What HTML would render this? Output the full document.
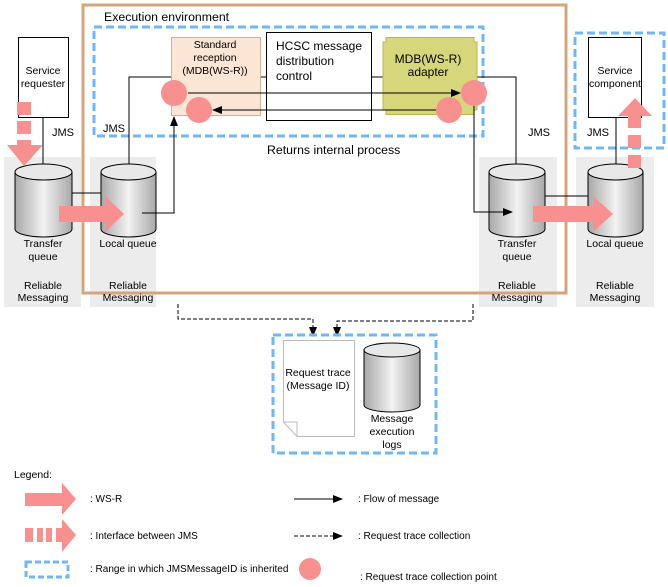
<!DOCTYPE html>
<html><head><meta charset="utf-8"><style>
html,body{margin:0;padding:0;background:#fff;}
svg{display:block;font-family:"Liberation Sans",Arial,sans-serif;font-size:11px;}
</style></head><body>
<svg width="668" height="587" viewBox="0 0 668 587" xmlns="http://www.w3.org/2000/svg">
<defs>
<linearGradient id="cg" x1="0" x2="1" y1="0" y2="0">
<stop offset="0" stop-color="#a8a8a8"/><stop offset="0.5" stop-color="#f2f2f2"/><stop offset="1" stop-color="#a8a8a8"/>
</linearGradient>
<marker id="ah" markerWidth="10" markerHeight="8" refX="9" refY="4" orient="auto" markerUnits="userSpaceOnUse">
<path d="M0,0 L10,4 L0,8 Z" fill="#000"/></marker>
</defs>

<rect x="4" y="157" width="77" height="150" fill="#ececec"/>
<rect x="90" y="157" width="66" height="150" fill="#ececec"/>
<rect x="479" y="157" width="78" height="150" fill="#ececec"/>
<rect x="576" y="157" width="78" height="150" fill="#ececec"/>

<rect x="83" y="5" width="483" height="288" fill="none" stroke="#d4a57a" stroke-width="3"/>
<text x="104" y="21" font-size="12.3">Execution environment</text>

<rect x="94" y="27" width="389" height="109" fill="none" stroke="#6fb7f7" stroke-width="3" stroke-dasharray="8,4"/>
<rect x="575" y="33" width="89" height="115" fill="none" stroke="#6fb7f7" stroke-width="3" stroke-dasharray="8,4"/>

<polyline points="171,77 129,77 129,164" fill="none" stroke="#000" stroke-width="1"/>
<line x1="260" y1="77" x2="266" y2="77" stroke="#000"/>
<line x1="371" y1="77" x2="383" y2="77" stroke="#000"/>
<polyline points="477,77 516,77 516,164" fill="none" stroke="#000" stroke-width="1"/>
<line x1="43" y1="118" x2="43" y2="164" stroke="#000"/>
<line x1="616" y1="117" x2="616" y2="165" stroke="#000"/>

<rect x="171.5" y="37.5" width="89" height="78" fill="#fbe5d5" stroke="#d6b08d"/>
<text text-anchor="middle" font-size="10.5"><tspan x="215" y="48">Standard</tspan><tspan x="215" y="61">reception</tspan><tspan x="215" y="74">(MDB(WS-R))</tspan></text>
<rect x="266.5" y="32.5" width="105" height="88" fill="#fff" stroke="#000"/>
<text font-size="12"><tspan x="276" y="50">HCSC message</tspan><tspan x="276" y="65">distribution</tspan><tspan x="276" y="80">control</tspan></text>
<path d="M386,37.5 L474,37.5 L474,42 L477,42 L477,110 L474,110 L474,114.5 L386,114.5 L386,110 L383,110 L383,42 L386,42 Z" fill="#d6d67a" stroke="#b8b84e"/>
<text text-anchor="middle" font-size="12"><tspan x="428" y="63">MDB(WS-R)</tspan><tspan x="428" y="76">adapter</tspan></text>

<rect x="18.5" y="37.5" width="50" height="80" fill="#fff" stroke="#000"/>
<text text-anchor="middle" font-size="10.5"><tspan x="43" y="74">Service</tspan><tspan x="43" y="87">requester</tspan></text>
<rect x="588.5" y="37.5" width="53" height="80" fill="#fff" stroke="#000"/>
<text text-anchor="middle" font-size="10.5"><tspan x="615" y="74">Service</tspan><tspan x="615" y="87">component</tspan></text>

<line x1="188" y1="93" x2="460" y2="93" stroke="#000" marker-end="url(#ah)"/>
<line x1="436" y1="110" x2="213" y2="110" stroke="#000" marker-end="url(#ah)"/>

<circle cx="174" cy="93" r="13" fill="#f89090"/>
<circle cx="199" cy="110" r="13" fill="#f89090"/>
<circle cx="474" cy="93" r="13" fill="#f89090"/>
<circle cx="449" cy="110" r="13" fill="#f89090"/>

<text x="52" y="136">JMS</text>
<text x="103" y="132">JMS</text>
<text x="528" y="136">JMS</text>
<text x="587" y="136">JMS</text>
<text x="267" y="154" font-size="12.3">Returns internal process</text>

<g stroke="#000" stroke-width="1">
<path d="M15,172 L15,229 A28.5,8 0 0 0 72,229 L72,172" fill="url(#cg)"/><ellipse cx="43.5" cy="172" rx="28.5" ry="8" fill="#e8e8e8"/>
<path d="M101,172 L101,229 A27.5,8 0 0 0 156,229 L156,172" fill="url(#cg)"/><ellipse cx="128.5" cy="172" rx="27.5" ry="8" fill="#e8e8e8"/>
<path d="M489,172 L489,229 A28,8 0 0 0 545,229 L545,172" fill="url(#cg)"/><ellipse cx="517" cy="172" rx="28" ry="8" fill="#e8e8e8"/>
<path d="M588,172 L588,229 A27.5,8 0 0 0 643,229 L643,172" fill="url(#cg)"/><ellipse cx="615.5" cy="172" rx="27.5" ry="8" fill="#e8e8e8"/>
<path d="M364,350 L364,405 A28,7 0 0 0 420,405 L420,350" fill="url(#cg)"/><ellipse cx="392" cy="350" rx="28" ry="7" fill="#e8e8e8"/>
</g>
<line x1="72" y1="193" x2="101" y2="193" stroke="#000"/>
<line x1="545" y1="196" x2="588" y2="196" stroke="#000"/>

<polyline points="142,213 174,213 174,117" fill="none" stroke="#000" marker-end="url(#ah)"/>
<polyline points="474,106 474,212 512,212" fill="none" stroke="#000" marker-end="url(#ah)"/>

<path d="M59,206 L105,206 L105,196 L124,214 L105,232 L105,222 L59,222 Z" fill="#f89090"/>
<path d="M533,206 L593,206 L593,196 L613,214 L593,232 L593,222 L533,222 Z" fill="#f89090"/>
<g fill="#f89090">
<rect x="17" y="102" width="14" height="13"/><rect x="17" y="121" width="14" height="13"/>
<path d="M17,140 L31,140 L31,145 L43,145 L24,166 L7,145 L17,145 Z"/>
<path d="M628,116 L618,116 L635,98 L652,116 L641,116 L641,128 L628,128 Z"/>
<rect x="628" y="135" width="13" height="13"/><rect x="628" y="155" width="13" height="13"/>
</g>

<g text-anchor="middle" font-size="10.5">
<text x="43" y="247">Transfer</text><text x="43" y="260">queue</text>
<text x="128" y="247">Local queue</text>
<text x="517" y="247">Transfer</text><text x="517" y="260">queue</text>
<text x="615" y="247">Local queue</text>
<text x="43" y="289">Reliable</text><text x="43" y="301">Messaging</text>
<text x="128" y="289">Reliable</text><text x="128" y="301">Messaging</text>
<text x="517" y="289">Reliable</text><text x="517" y="301">Messaging</text>
<text x="615" y="289">Reliable</text><text x="615" y="301">Messaging</text>
</g>

<polyline points="178,304 178,319 313,319 313,336" fill="none" stroke="#000" stroke-dasharray="4,2" marker-end="url(#ah)"/>
<polyline points="473,304 473,321 337,321 337,336" fill="none" stroke="#000" stroke-dasharray="4,2" marker-end="url(#ah)"/>

<rect x="273" y="335" width="163" height="118" fill="none" stroke="#6fb7f7" stroke-width="3" stroke-dasharray="8,4"/>
<path d="M283.5,340.5 L354.5,340.5 L354.5,436.5 L297,436.5 L283.5,422 Z" fill="#fff" stroke="#bbb"/>
<path d="M283.5,422 L297,422 L297,436.5" fill="none" stroke="#bbb"/>
<g text-anchor="middle" font-size="10.5">
<text x="318" y="376">Request trace</text><text x="318" y="389">(Message ID)</text>
<text x="392" y="422">Message</text><text x="392" y="435">execution</text><text x="392" y="448">logs</text>
</g>

<text x="14" y="478" font-size="10.5">Legend:</text>
<path d="M25,493 L62,493 L62,483 L76,499 L62,515 L62,506 L25,506 Z" fill="#f89090"/>
<text x="90" y="502" font-size="10">: WS-R</text>
<g fill="#f89090">
<rect x="25" y="528" width="8" height="14"/><rect x="37" y="528" width="6" height="14"/><rect x="46" y="528" width="6" height="14"/>
<path d="M56,528 L62,528 L62,519 L76,535 L62,552 L62,542 L56,542 Z"/>
</g>
<text x="90" y="539" font-size="10">: Interface between JMS</text>
<rect x="26" y="562" width="42" height="15" fill="none" stroke="#6fb7f7" stroke-width="3" stroke-dasharray="6,3"/>
<text x="90" y="572" font-size="10">: Range in which JMSMessageID is inherited</text>
<line x1="294" y1="499" x2="342" y2="499" stroke="#000" marker-end="url(#ah)"/>
<text x="358" y="502" font-size="10">: Flow of message</text>
<line x1="294" y1="536" x2="342" y2="536" stroke="#000" stroke-dasharray="4,2" marker-end="url(#ah)"/>
<text x="358" y="539" font-size="10">: Request trace collection</text>
<circle cx="310" cy="569" r="11" fill="#f89090"/>
<text x="360" y="580" font-size="10">: Request trace collection point</text>
</svg>
</body></html>
